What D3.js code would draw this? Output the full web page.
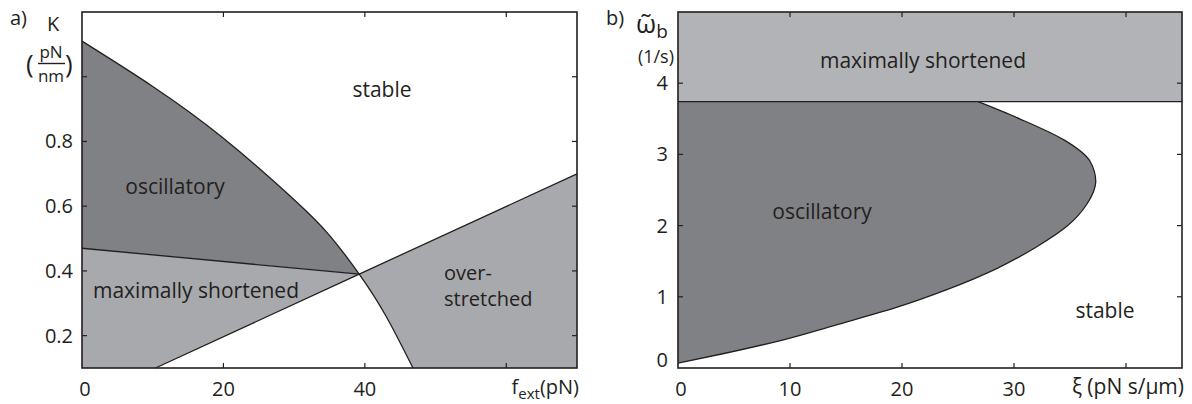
<!DOCTYPE html>
<html>
<head>
<meta charset="utf-8">
<script src="https://cdn.jsdelivr.net/npm/d3@7"></script>
<style>
  body { margin: 0; background: #fff; }
  text { font-family: "Open Sans", sans-serif; fill: #231f20; }
</style>
</head>
<body>
<div id="chart"></div>
<script>
// panel a: boundary curve K(f_ext) and the two straight boundaries
const aF = [0, 10, 20, 30, 35, 39.2, 43, 46.8];
const aK = [1.11, 0.97, 0.81, 0.62, 0.51, 0.39, 0.26, 0.10];
const shortF = [0, 39.2];
const shortK = [0.47, 0.39];
const stretchF = [10.4, 39.2, 70];
const stretchK = [0.10, 0.39, 0.70];
const aXTicks = [20, 40, 60];
const aXLabels = [0, 20, 40];
const aYTicks = [0.2, 0.4, 0.6, 0.8, 1.0];
const aYLabels = [0.2, 0.4, 0.6, 0.8];

// panel b: oscillatory boundary xi(omega_b) and max shortened level
const bW = [0.07, 0.2, 0.4, 0.6, 0.85, 1.1, 1.4, 1.7, 2.0, 2.3, 2.62, 2.9, 3.2, 3.5, 3.74];
const bXi = [0, 4, 9.5, 14, 19.5, 24, 28.5, 32, 34.8, 36.5, 37.3, 36.8, 34.5, 30.5, 26.8];
const bShortW = 3.74;
const bXTicks = [10, 20, 30, 40];
const bXLabels = [0, 10, 20, 30];
const bYTicks = [1, 2, 3, 4];
const bYLabels = [0, 1, 2, 3, 4];

const dark = "#808184", light = "#a8a9ac", lightB = "#b2b3b6";
const fs = "20px", fsR = "21px";

const svg = d3.select("#chart").append("svg")
  .attr("width", 1192)
  .attr("height", 404);

function ticks(g, x, y, xt, yt) {
  const [x0, x1] = x.range(), [y0, y1] = y.range();
  xt.forEach(t => {
    g.append("line").attr("x1", x(t)).attr("x2", x(t)).attr("y1", y0).attr("y2", y0 - 5);
    g.append("line").attr("x1", x(t)).attr("x2", x(t)).attr("y1", y1).attr("y2", y1 + 5);
  });
  yt.forEach(t => {
    g.append("line").attr("x1", x0).attr("x2", x0 + 5).attr("y1", y(t)).attr("y2", y(t));
    g.append("line").attr("x1", x1).attr("x2", x1 - 5).attr("y1", y(t)).attr("y2", y(t));
  });
  g.selectAll("line").attr("stroke", "#231f20").attr("stroke-width", 1.2);
  g.append("rect")
    .attr("x", x0).attr("y", y1).attr("width", x1 - x0).attr("height", y0 - y1)
    .attr("fill", "none").attr("stroke", "#231f20").attr("stroke-width", 1.6);
}

// ---------- panel a ----------
const xa = d3.scaleLinear().domain([0, 70]).range([82, 577]);
const ya = d3.scaleLinear().domain([0.1, 1.2]).range([368, 12]);
const pa = svg.append("g");

const curveA = d3.line().x(d => xa(d[0])).y(d => ya(d[1])).curve(d3.curveNatural);
const curvePts = aF.map((f, i) => [f, aK[i]]);
const poly = pts => "M" + pts.map(p => xa(p[0]) + "," + ya(p[1])).join("L") + "Z";

pa.append("rect").attr("x", 82).attr("y", 12).attr("width", 495).attr("height", 356).attr("fill", "#fff");

// over-stretched wedge (left part covered by the inside-curve region)
pa.append("path").attr("fill", light)
  .attr("d", poly([[stretchF[1], stretchK[1]], [stretchF[2], stretchK[2]], [70, 0.1], [stretchF[1], 0.1]]));

const inside = curveA(curvePts) + "L" + xa(0) + "," + ya(0.1) + "Z";
pa.append("path").attr("fill", "#fff").attr("d", inside);

pa.append("clipPath").attr("id", "inA").append("path").attr("d", inside);
pa.append("path").attr("fill", dark).attr("clip-path", "url(#inA)")
  .attr("d", poly([[0, 1.2], [shortF[0], shortK[0]], [shortF[1], shortK[1]], [shortF[1], 1.2]]));

pa.append("path").attr("fill", light)
  .attr("d", poly([[0, 0.1], [shortF[0], shortK[0]], [shortF[1], shortK[1]], [stretchF[0], stretchK[0]]]));

const lineA = d3.line().x(d => xa(d[0])).y(d => ya(d[1]));
pa.append("path").attr("d", curveA(curvePts)).attr("fill", "none").attr("stroke", "#231f20").attr("stroke-width", 1.3);
pa.append("path").attr("d", lineA(shortF.map((f, i) => [f, shortK[i]]))).attr("fill", "none").attr("stroke", "#231f20").attr("stroke-width", 1.3);
pa.append("path").attr("d", lineA(stretchF.map((f, i) => [f, stretchK[i]]))).attr("fill", "none").attr("stroke", "#231f20").attr("stroke-width", 1.3);

ticks(pa.append("g"), xa, ya, aXTicks, aYTicks);

pa.selectAll(".xl").data(aXLabels).enter().append("text")
  .attr("x", d => xa(d) + (d === 0 ? 3 : 0)).attr("y", 396)
  .attr("text-anchor", "middle").style("font-size", fs).text(d => d);
pa.selectAll(".yl").data(aYLabels).enter().append("text")
  .attr("x", 73).attr("y", d => ya(d)).attr("dy", "0.35em")
  .attr("text-anchor", "end").style("font-size", fs).text(d => d.toFixed(1));

const fl = pa.append("text").attr("x", 579).attr("y", 394).attr("text-anchor", "end").style("font-size", fs);
fl.append("tspan").text("f");
fl.append("tspan").attr("dy", 5).style("font-size", "15px").text("ext");
fl.append("tspan").attr("dy", -5).text("(pN)");

pa.append("text").attr("x", 10).attr("y", 25).style("font-size", fs).text("a)");
pa.append("text").attr("x", 53).attr("y", 31).attr("text-anchor", "middle").style("font-size", fs).text("K");
pa.append("text").attr("x", 51).attr("y", 58).attr("text-anchor", "middle").style("font-size", "17px").text("pN");
pa.append("line").attr("x1", 38).attr("x2", 65).attr("y1", 63.5).attr("y2", 63.5).attr("stroke", "#231f20").attr("stroke-width", 1.4);
pa.append("text").attr("x", 51).attr("y", 82).attr("text-anchor", "middle").style("font-size", "17px").text("nm");
pa.append("text").attr("x", 26).attr("y", 73).style("font-size", "26px").text("(");
pa.append("text").attr("x", 65).attr("y", 73).style("font-size", "26px").text(")");

pa.append("text").attr("x", 382).attr("y", 97).attr("text-anchor", "middle").style("font-size", fsR).text("stable");
pa.append("text").attr("x", 175).attr("y", 194).attr("text-anchor", "middle").style("font-size", fsR).text("oscillatory");
pa.append("text").attr("x", 196).attr("y", 298).attr("text-anchor", "middle").style("font-size", fsR).text("maximally shortened");
pa.append("text").attr("x", 444).attr("y", 280).style("font-size", "20px").text("over-");
pa.append("text").attr("x", 444).attr("y", 306).style("font-size", "20px").text("stretched");

// ---------- panel b ----------
const xb = d3.scaleLinear().domain([0, 45]).range([678, 1182]);
const yb = d3.scaleLinear().domain([0, 5]).range([368, 12]);
const pb = svg.append("g");

pb.append("rect").attr("x", 678).attr("y", 12).attr("width", 504).attr("height", 356).attr("fill", "#fff");
pb.append("rect").attr("x", xb(0)).attr("y", yb(5)).attr("width", xb(45) - xb(0)).attr("height", yb(bShortW) - yb(5)).attr("fill", lightB);

const curveB = d3.line().x(d => xb(d[0])).y(d => yb(d[1])).curve(d3.curveMonotoneY);
const bPts = bW.map((w, i) => [bXi[i], w]);
pb.append("path").attr("fill", dark)
  .attr("d", curveB(bPts) + "L" + xb(0) + "," + yb(bShortW) + "Z");
pb.append("path").attr("d", curveB(bPts)).attr("fill", "none").attr("stroke", "#231f20").attr("stroke-width", 1.3);
pb.append("line").attr("x1", xb(0)).attr("x2", xb(45)).attr("y1", yb(bShortW)).attr("y2", yb(bShortW))
  .attr("stroke", "#231f20").attr("stroke-width", 1.3);

ticks(pb.append("g"), xb, yb, bXTicks, bYTicks);

pb.selectAll(".xl").data(bXLabels).enter().append("text")
  .attr("x", d => xb(d) + (d === 0 ? 3 : 0)).attr("y", 396)
  .attr("text-anchor", "middle").style("font-size", fs).text(d => d);
pb.selectAll(".yl").data(bYLabels).enter().append("text")
  .attr("x", 668).attr("y", d => yb(d) - (d === 0 ? 8 : 0)).attr("dy", "0.35em")
  .attr("text-anchor", "end").style("font-size", fs).text(d => d);

pb.append("text").attr("x", 1184).attr("y", 394).attr("text-anchor", "end").style("font-size", "21px").text("ξ (pN s/μm)");

pb.append("text").attr("x", 606).attr("y", 25).style("font-size", fs).text("b)");
const wl = pb.append("text").attr("x", 636).attr("y", 33).style("font-size", "26px");
wl.append("tspan").text("ω̃");
wl.append("tspan").attr("dy", 5).style("font-size", "19px").text("b");
pb.append("text").attr("x", 674).attr("y", 63).attr("text-anchor", "end").style("font-size", "18px").text("(1/s)");

pb.append("text").attr("x", 923).attr("y", 68).attr("text-anchor", "middle").style("font-size", fsR).text("maximally shortened");
pb.append("text").attr("x", 822).attr("y", 219).attr("text-anchor", "middle").style("font-size", fsR).text("oscillatory");
pb.append("text").attr("x", 1105).attr("y", 318).attr("text-anchor", "middle").style("font-size", fsR).text("stable");
</script>
</body>
</html>
